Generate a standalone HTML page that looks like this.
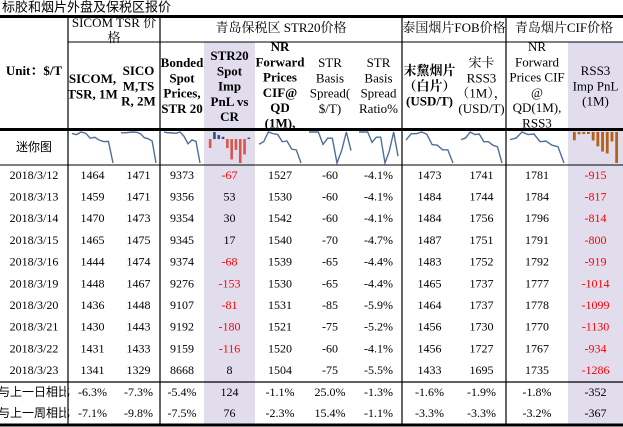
<!DOCTYPE html>
<html><head><meta charset="utf-8"><style>
html,body{margin:0;padding:0;background:#fff;}
svg{display:block;font-family:"Liberation Serif","Noto Serif CJK SC",serif;}
</style></head><body>
<svg id="s" width="623" height="427" viewBox="0 0 623 427"></svg>
<script>
const dates=["2018/3/12","2018/3/13","2018/3/14","2018/3/15","2018/3/16","2018/3/19","2018/3/20","2018/3/21","2018/3/22","2018/3/23"];
const sicom1=[1464,1459,1470,1465,1444,1448,1436,1430,1431,1341];
const sicom2=[1471,1471,1473,1475,1474,1467,1448,1443,1433,1329];
const bonded=[9373,9356,9354,9345,9374,9276,9107,9192,9159,8668];
const str20Imp=[-67,53,30,17,-68,-153,-81,-180,-116,8];
const nrFwd=[1527,1530,1542,1540,1539,1530,1531,1521,1520,1504];
const basisSpread=[-60,-60,-60,-70,-65,-65,-85,-75,-60,-75];
const basisRatio=[-4.1,-4.1,-4.1,-4.7,-4.4,-4.4,-5.9,-5.2,-4.1,-5.5];
const thaiWhite=[1473,1484,1484,1487,1483,1465,1464,1456,1456,1433];
const thaiRss3=[1741,1744,1756,1751,1752,1737,1737,1730,1727,1695];
const nrCif=[1781,1784,1796,1791,1792,1777,1778,1770,1767,1735];
const rss3Imp=[-915,-817,-814,-800,-919,-1014,-1099,-1130,-934,-1286];
const dayChange=["-6.3%","-7.3%","-5.4%","124","-1.1%","25.0%","-1.3%","-1.6%","-1.9%","-1.8%","-352"];
const weekChange=["-7.1%","-9.8%","-7.5%","76","-2.3%","15.4%","-1.1%","-3.3%","-3.3%","-3.2%","-367"];

const S=document.getElementById('s'),NS="http://www.w3.org/2000/svg";
function el(t,a,name,p){const e=document.createElementNS(NS,t);for(const k in a)e.setAttribute(k,a[k]);


(p||S).appendChild(e);return e;}
function txt(x,y,s,name,o){o=o||{};const e=el('text',{x:x,y:y,'font-size':o.fs||12,'text-anchor':o.a||'middle','dominant-baseline':'middle',fill:o.c||'#000','font-weight':o.b?'bold':'normal','font-family':o.f||'"Liberation Serif","Noto Serif CJK SC",serif'},name);e.textContent=s;return e;}
const X=[0,68,117,160,204,255,305,355,402,457,506,568,623];
const cx=i=>(X[i]+X[i+1])/2;
el('rect',{x:204,y:42,width:51,height:384,fill:'#e1dded'},'str20-imp-shade');
el('rect',{x:568,y:42,width:55,height:384,fill:'#e1dded'},'rss3-imp-shade');
txt(2,8,"标胶和烟片外盘及保税区报价","table-title",{a:'start',fs:13,f:'"Liberation Sans","Noto Sans CJK SC",sans-serif'});
txt(114,24,"SICOM TSR 价","group-sicom",{fs:13});txt(114,39,"格","group-sicom-2",{fs:13});
txt(281,29,"青岛保税区 STR20价格","group-str20",{fs:13});
txt(454,29,"泰国烟片FOB价格","group-thai",{fs:13});
txt(564,29,"青岛烟片CIF价格","group-cif",{fs:13});
txt(34,72,"Unit：$/T","unit-label",{b:1,fs:13});
const heads=[
 [1,["SICOM,","TSR, 1M"],80,1],[2,["SICO","M,TS","R, 2M"],72,1],[3,["Bonded","Spot","Prices,","STR 20"],64,1],
 [4,["STR20","Spot","Imp","PnL vs","CR"],57,1],[5,["NR","Forward","Prices","CIF@","QD","(1M),"],48,1],
 [6,["STR","Basis","Spread(","$/T)"],64,0],[7,["STR","Basis","Spread","Ratio%"],64,0],
 [8,["末黧烟片","（白片）","(USD/T)"],72,1],[9,["宋卡","RSS3","（1M），","(USD/T)"],64,0],
 [10,["NR","Forward","Prices CIF","@","QD(1M),","RSS3"],48,0],[11,["RSS3","Imp PnL","(1M)"],72,0]];
heads.forEach(h=>h[1].forEach((l,j)=>{const y=h[2]+j*15.3;if(y<132)txt(cx(h[0]),y,l,"column-header",{b:h[3],fs:13});}));
el('rect',{x:0,y:129,width:623,height:2,fill:'#fff'},'header-clip');
txt(34,148,"迷你图","sparkline-label",{f:'"Liberation Sans","Noto Sans CJK SC",sans-serif'});
const cols=[sicom1,sicom2,bonded,str20Imp,nrFwd,basisSpread,basisRatio,thaiWhite,thaiRss3,nrCif,rss3Imp];
const RH=21.7;
dates.forEach((d,i)=>{const y=176+i*RH;txt(34,y,d,"date-cell");
 cols.forEach((c,k)=>{let v=c[i];let s=k==6?v.toFixed(1)+"%":String(v);
 const red=(k==3||k==10)&&v<0;txt(cx(k+1),y,s,"value-cell",{c:red?'#ff0000':'#000'});});});
[[dayChange,"与上一日相比",393],[weekChange,"与上一周相比",414]].forEach(r=>{
 txt(-2,r[2],r[1],"summary-label",{a:'start',f:'"Liberation Sans","Noto Sans CJK SC",sans-serif'});
 r[0].forEach((s,k)=>txt(cx(k+1),r[2],s,"summary-cell"));});
el('rect',{x:66,y:383,width:2,height:40,fill:'#fff'},'label-clip');
const sy0=132,sy1=163;
cols.forEach((c,k)=>{const x0=X[k+1]+4,x1=X[k+2]-4,n=c.length,xs=i=>x0+(x1-x0)*i/(n-1);
 if(k==3){const mx=Math.max(...c),mn=Math.min(...c),sc=(sy1-sy0)/(mx-mn),base=sy0+mx*sc;const bw=(x1-x0)/n*0.6;
  c.forEach((v,i)=>{const xx=x0+(x1-x0)*(i+0.5)/n-bw/2;const h=Math.max(Math.abs(v)*sc,1.5);
   el('rect',{x:xx,y:v>=0?base-h:base,width:bw,height:h,fill:v>=0?'#2e4d8a':'#d9534f'},'spark-bar');});}
 else if(k==10){const top=-780,mn=Math.min(...c),sc=(sy1-sy0)/(top-mn);const bw=(x1-x0)/n*0.6;
  c.forEach((v,i)=>{const xx=x0+(x1-x0)*(i+0.5)/n-bw/2;
   el('rect',{x:xx,y:sy0,width:bw,height:Math.max((top-v)*sc,2),fill:'#b5601c'},'spark-bar');});}
 else{const mx=Math.max(...c),mn=Math.min(...c),ys=v=>sy0+(mx-v)/(mx-mn)*(sy1-sy0);
  el('polyline',{points:c.map((v,i)=>xs(i)+","+ys(v)).join(" "),fill:'none',stroke:'#4f6e99','stroke-width':1.4},'sparkline');}});
function ln(x1,y1,x2,y2,w,n){el('line',{x1:x1,y1:y1,x2:x2,y2:y2,stroke:'#000','stroke-width':w},n);}
ln(0,16.5,623,16.5,3,"top-rule");ln(68,42,623,42,1,"group-rule");ln(0,129.5,623,129.5,3,"header-rule");
ln(0,165,623,165,1,"spark-rule");ln(0,382,623,382,1.2,"summary-rule");ln(0,425,623,425,3,"bottom-rule");
[68,160,402,506].forEach(x=>ln(x,16,x,425,1.2,"column-divider"));
</script>
</body></html>
